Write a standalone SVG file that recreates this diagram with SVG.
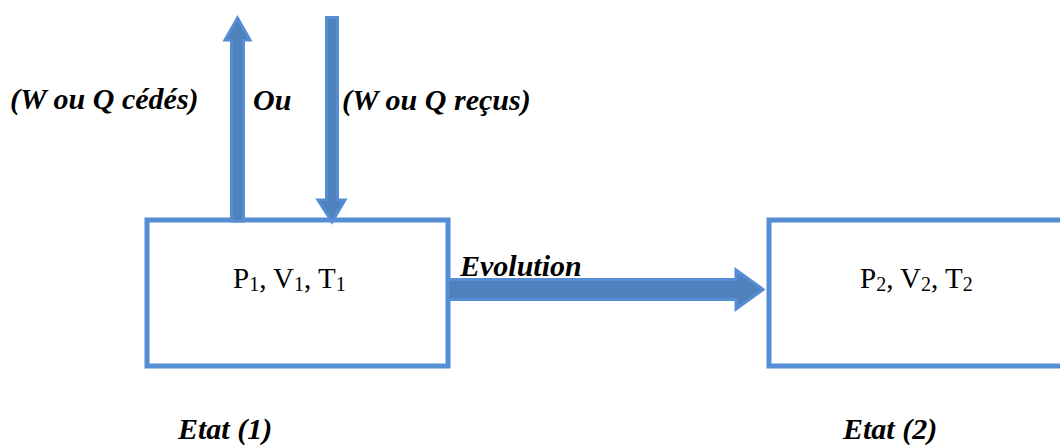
<svg xmlns="http://www.w3.org/2000/svg" width="1060" height="446" viewBox="0 0 1060 446">
<style>
.box{fill:#ffffff;stroke:#558ED5;stroke-width:5}
.arrow{fill:#4F81BD;stroke:#558ED5;stroke-width:3;stroke-linejoin:miter}
.lbl{font-family:"Liberation Serif","Times New Roman",serif;font-size:30px;font-weight:bold;font-style:italic;fill:#000}
.st{font-family:"Liberation Serif","Times New Roman",serif;font-size:29px;fill:#000}
.sub{font-size:20px}
</style>
<rect width="1060" height="446" fill="#ffffff"/>
<g id="state1">
<rect class="box" x="147" y="220" width="301" height="146"/>
<text class="st" x="233" y="288">P<tspan class="sub" dy="3">1</tspan><tspan dy="-3">, V</tspan><tspan class="sub" dy="3">1</tspan><tspan dy="-3">, T</tspan><tspan class="sub" dy="3">1</tspan></text>
</g>
<g id="state2">
<rect class="box" x="769" y="220" width="300" height="146"/>
<text class="st" x="860" y="288">P<tspan class="sub" dy="3">2</tspan><tspan dy="-3">, V</tspan><tspan class="sub" dy="3">2</tspan><tspan dy="-3">, T</tspan><tspan class="sub" dy="3">2</tspan></text>
</g>
<g id="connectors">
<path class="arrow" d="M231.5,221 L231.5,40 L225,40 L237.5,18 L250,40 L243.5,40 L243.5,221 Z"/>
<path class="arrow" d="M326.5,17.5 L337.5,17.5 L337.5,200 L345,200 L332,222 L318,200 L326.5,200 Z"/>
<path class="arrow" d="M448,279.5 L736,279.5 L736,270 L763,289.5 L736,309 L736,299.5 L448,299.5 Z"/>
</g>
<g id="labels">
<text class="lbl" x="10" y="109">(W ou Q cédés)</text>
<text class="lbl" x="253" y="110">Ou</text>
<text class="lbl" x="342" y="110">(W ou Q reçus)</text>
<text class="lbl" x="460" y="276">Evolution</text>
<text class="lbl" x="178" y="439">Etat (1)</text>
<text class="lbl" x="843" y="439">Etat (2)</text>
</g>
</svg>
